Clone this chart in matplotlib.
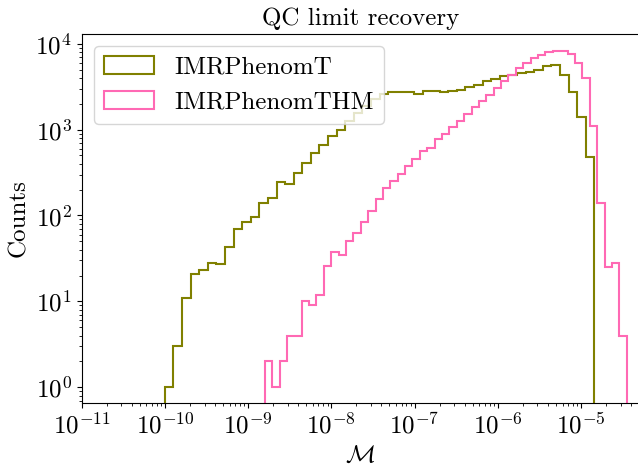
import numpy as np
import matplotlib
matplotlib.use("Agg")
import matplotlib.pyplot as plt

plt.rcParams["font.family"] = "serif"
plt.rcParams["font.serif"] = ["cmr10"]
plt.rcParams["mathtext.fontset"] = "cm"
plt.rcParams["axes.formatter.use_mathtext"] = True
plt.rcParams["font.size"] = 18

# bin ranges (log10 of the mismatch), one set per model
t_log_lo, t_log_hi, t_nbins = -10.0, -4.84, 50
thm_log_lo, thm_log_hi, thm_nbins = -8.80, -4.451, 49

# counts per bin, IMRPhenomT
t_counts = [1, 3, 11, 21, 23, 28, 27, 43, 70, 83,
            97, 138, 158, 246, 234, 309, 408, 534, 667, 849,
            997, 1250, 1550, 1900, 2300, 2600, 2750, 2750, 2750, 2600,
            2790, 2787, 2750, 2787, 2917, 3105, 3337, 3647, 3890, 4170,
            4365, 4570, 4690, 4990, 5455, 5600, 4285, 2744, 1402, 474]

# counts per bin, IMRPhenomTHM
thm_counts = [2, 1, 2, 4, 4, 10, 9, 12, 26, 38,
              35, 50, 62, 85, 113, 155, 208, 249, 306, 373,
              458, 557, 610, 770, 896, 1075, 1247, 1518, 1815, 2173,
              2505, 3053, 3647, 4285, 5224, 5970, 6830, 7460, 8020, 8310,
              8150, 7670, 5970, 3994, 1090, 139, 25, 28, 4]

t_edges = np.logspace(t_log_lo, t_log_hi, t_nbins + 1)
thm_edges = np.logspace(thm_log_lo, thm_log_hi, thm_nbins + 1)

fig = plt.figure(figsize=(6.38, 4.66), dpi=100)
ax = fig.add_axes([0.128, 0.1352, 0.8738, 0.7925])
ax.set_xscale("log")
ax.set_yscale("log")

# weights = counts, one sample per bin at its left edge
ax.hist(t_edges[:-1], bins=t_edges, weights=t_counts, histtype="step",
        color="olive", linewidth=1.5, label="IMRPhenomT")
ax.hist(thm_edges[:-1], bins=thm_edges, weights=thm_counts, histtype="step",
        color="hotpink", linewidth=1.5, label="IMRPhenomTHM")

ax.set_xlim(1e-11, 5e-5)
ax.set_ylim(0.655, 13100)
ax.set_xticks([1e-11, 1e-10, 1e-9, 1e-8, 1e-7, 1e-6, 1e-5])

ax.set_title("QC limit recovery", fontsize=18)
ax.set_xlabel(r"$\mathcal{M}$")
ax.set_ylabel("Counts")
ax.legend(loc="upper left")

fig.savefig("out.png", dpi=100)
